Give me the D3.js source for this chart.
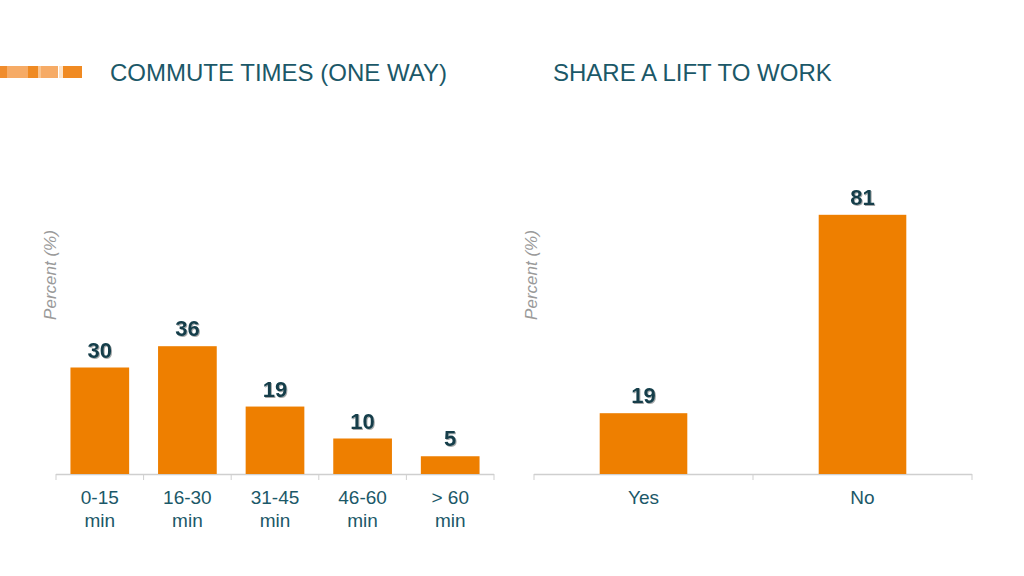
<!DOCTYPE html>
<html>
<head>
<meta charset="utf-8">
<script src="https://cdn.jsdelivr.net/npm/d3@7"></script>
<style>
  body { margin: 0; background: #fff; }
  svg { display: block; font-family: "Liberation Sans", Arial, sans-serif; }
</style>
</head>
<body>
<div id="chart"></div>
<script>
// Chart data
var commuteCategories = ["0-15|min", "16-30|min", "31-45|min", "46-60|min", "> 60|min"];
var commuteValues = [30, 36, 19, 10, 5];
var liftCategories = ["Yes", "No"];
var liftValues = [19, 81];

var orange = "#ee7f00";
var teal = "#1b5868";
var labelDark = "#123e4a";

var svg = d3.select("#chart").append("svg")
    .attr("width", 1024)
    .attr("height", 576);

// Shadow for value labels
var defs = svg.append("defs");
var filter = defs.append("filter").attr("id", "shadow")
    .attr("x", "-20%").attr("y", "-20%").attr("width", "140%").attr("height", "140%");
filter.append("feDropShadow")
    .attr("dx", 1).attr("dy", 1).attr("stdDeviation", 0.6)
    .attr("flood-color", "#000").attr("flood-opacity", 0.35);

// Decorative strip top-left
var strip = [
    { x: 0, w: 7, c: "#f08c2c" },
    { x: 7, w: 21, c: "#f6ab66" },
    { x: 28, w: 10, c: "#ef8a22" },
    { x: 38, w: 3, c: "#f9c48f" },
    { x: 41, w: 17, c: "#f6ab66" },
    { x: 59, w: 4, c: "#fde3c8" },
    { x: 63, w: 19, c: "#f08a22" }
];
svg.append("g").selectAll("rect").data(strip).enter().append("rect")
    .attr("x", function(d) { return d.x; })
    .attr("y", 66)
    .attr("width", function(d) { return d.w; })
    .attr("height", 12)
    .attr("fill", function(d) { return d.c; });

// Titles
svg.append("text").attr("x", 110).attr("y", 81)
    .attr("fill", teal).style("font-size", "24px")
    .text("COMMUTE TIMES (ONE WAY)");
svg.append("text").attr("x", 553).attr("y", 81)
    .attr("fill", teal).style("font-size", "24px")
    .text("SHARE A LIFT TO WORK");

function drawChart(cats, vals, opts) {
    var g = svg.append("g");

    var x = d3.scaleBand().domain(cats).range([opts.x0, opts.x1])
        .paddingInner(opts.pad).paddingOuter(opts.pad / 2);
    var y = d3.scaleLinear().domain([0, opts.ymax]).range([474, 474 - opts.ymax * opts.pxPerUnit]);

    // Axis line with ticks between categories
    var edges = cats.map(function(c, i) { return opts.x0 + i * (opts.x1 - opts.x0) / cats.length; });
    edges.push(opts.x1);
    g.append("line")
        .attr("x1", opts.x0).attr("x2", opts.x1)
        .attr("y1", 474.5).attr("y2", 474.5)
        .attr("stroke", "#cfcfcf").attr("stroke-width", 1.5);
    g.selectAll(".tick").data(edges).enter().append("line")
        .attr("x1", function(d) { return d; }).attr("x2", function(d) { return d; })
        .attr("y1", 474).attr("y2", 480)
        .attr("stroke", "#cfcfcf").attr("stroke-width", 1);

    // Bars
    g.selectAll(".bar").data(vals).enter().append("rect")
        .attr("x", function(d, i) { return x(cats[i]); })
        .attr("y", function(d) { return y(d); })
        .attr("width", x.bandwidth())
        .attr("height", function(d) { return y(0) - y(d); })
        .attr("fill", orange);

    // Value labels
    g.selectAll(".val").data(vals).enter().append("text")
        .attr("x", function(d, i) { return x(cats[i]) + x.bandwidth() / 2; })
        .attr("y", function(d) { return y(d) - 10; })
        .attr("text-anchor", "middle")
        .attr("fill", labelDark)
        .attr("filter", "url(#shadow)")
        .style("font-size", "22px").style("font-weight", "bold")
        .text(function(d) { return d; });

    // Category labels
    var cl = g.selectAll(".cat").data(cats).enter().append("text")
        .attr("x", function(d) { return x(d) + x.bandwidth() / 2; })
        .attr("y", 504)
        .attr("text-anchor", "middle")
        .attr("fill", teal)
        .style("font-size", "19px");
    cl.each(function(d) {
        var parts = d.split("|");
        var t = d3.select(this);
        parts.forEach(function(p, i) {
            t.append("tspan")
                .attr("x", t.attr("x"))
                .attr("dy", i === 0 ? 0 : 23)
                .text(p);
        });
    });

    // Y axis title
    g.append("text")
        .attr("transform", "translate(" + opts.labelX + ",275) rotate(-90)")
        .attr("text-anchor", "middle")
        .attr("fill", "#9a9a9a")
        .style("font-size", "17px").style("font-style", "italic")
        .text("Percent (%)");
}

drawChart(commuteCategories, commuteValues, { x0: 56, x1: 494, pad: 0.33, ymax: 40, pxPerUnit: 3.55, labelX: 56 });
drawChart(liftCategories, liftValues, { x0: 534, x1: 972, pad: 0.6, ymax: 90, pxPerUnit: 3.2, labelX: 537 });
</script>
</body>
</html>
